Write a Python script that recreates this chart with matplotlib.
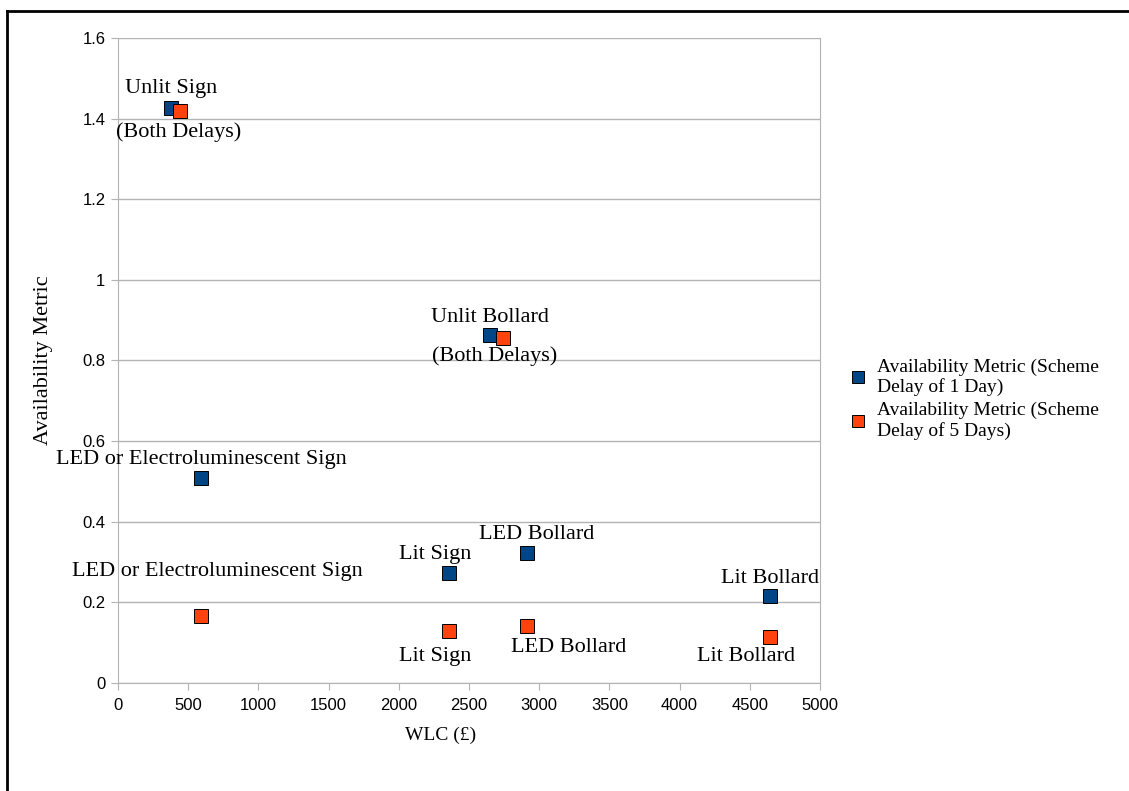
import matplotlib.pyplot as plt
from matplotlib.lines import Line2D

# WLC cost (GBP) and availability metric for each lighting option
options = ["Unlit Sign", "Unlit Bollard", "LED or Electroluminescent Sign",
           "Lit Sign", "LED Bollard", "Lit Bollard"]
wlc_1day = [375, 2650, 591, 2357, 2913, 4644]
avail_1day = [1.427, 0.863, 0.509, 0.273, 0.323, 0.215]
wlc_5day = [444, 2742, 591, 2357, 2913, 4644]
avail_5day = [1.419, 0.856, 0.166, 0.129, 0.141, 0.114]

labels_1day = ["Unlit Sign", "Unlit Bollard", "LED or Electroluminescent Sign",
               "Lit Sign", "LED Bollard", "Lit Bollard"]
labels_5day = ["(Both Delays)", "(Both Delays)", "LED or Electroluminescent Sign",
               "Lit Sign", "LED Bollard", "Lit Bollard"]
# label offsets in points (dx, dy) relative to the marker
offs_1day = [(0, 14), (0, 13), (0, 13), (-10, 13), (7, 13), (0, 13)]
offs_5day = [(-1, -15), (-6, -13), (12, 32), (-10, -18), (30, -15), (-17, -14)]

series_names = ["Availability Metric (Scheme\nDelay of 1 Day)",
                "Availability Metric (Scheme\nDelay of 5 Days)"]
blue = "#004586"
orange = "#ff420e"
serif = ["Liberation Serif", "DejaVu Serif"]
narrow = ["Liberation Sans Narrow", "Liberation Sans", "DejaVu Sans"]

fig = plt.figure(figsize=(11.29, 7.91), dpi=100)
ax = fig.add_axes([0.1045, 0.1365, 0.6218, 0.8155])

ax.plot(wlc_1day, avail_1day, "s", color=blue, markersize=9.5,
        markeredgecolor="black", markeredgewidth=0.7, label=series_names[0], zorder=3)
ax.plot(wlc_5day, avail_5day, "s", color=orange, markersize=9.5,
        markeredgecolor="black", markeredgewidth=0.7, label=series_names[1], zorder=3)

for x, y, t, o in zip(wlc_1day, avail_1day, labels_1day, offs_1day):
    ax.annotate(t, (x, y), xytext=o, textcoords="offset points", ha="center",
                va="center", fontsize=16, family=serif)
for x, y, t, o in zip(wlc_5day, avail_5day, labels_5day, offs_5day):
    ax.annotate(t, (x, y), xytext=o, textcoords="offset points", ha="center",
                va="center", fontsize=16, family=serif)

ax.set_xlim(0, 5000)
ax.set_ylim(0, 1.6)
ax.set_xticks(range(0, 5001, 500))
ax.set_yticks([0, 0.2, 0.4, 0.6, 0.8, 1, 1.2, 1.4, 1.6])
ax.set_yticklabels(["0", "0.2", "0.4", "0.6", "0.8", "1", "1.2", "1.4", "1.6"])
for lab in ax.get_xticklabels() + ax.get_yticklabels():
    lab.set_family(narrow)
    lab.set_fontsize(12)
ax.tick_params(direction="out", length=5, color="#b3b3b3", pad=4)
ax.tick_params(axis="x", pad=6)
ax.grid(axis="y", color="#b3b3b3", linewidth=1)
ax.set_axisbelow(True)
for s in ax.spines.values():
    s.set_color("#b3b3b3")
ax.spines["top"].set_visible(False)

ax.set_xlabel("WLC (£)", fontsize=14, family=serif)
ax.xaxis.set_label_coords(0.46, -0.068)
ax.set_ylabel("Availability Metric", fontsize=16, family=serif)
ax.yaxis.set_label_coords(-0.093, 0.5)

ax.legend(loc="center left", bbox_to_anchor=(1.02, 0.44), frameon=False,
          prop={"family": serif, "size": 14}, handlelength=0.7,
          handletextpad=0.6, labelspacing=0.3, markerscale=0.85)

# black frame round the figure (only left and top show in the crop)
fig.add_artist(Line2D([0.0062, 0.0062], [0, 0.986], color="black", linewidth=2))
fig.add_artist(Line2D([0.0062, 1], [0.986, 0.986], color="black", linewidth=2))

fig.savefig("out.png", dpi=100)
